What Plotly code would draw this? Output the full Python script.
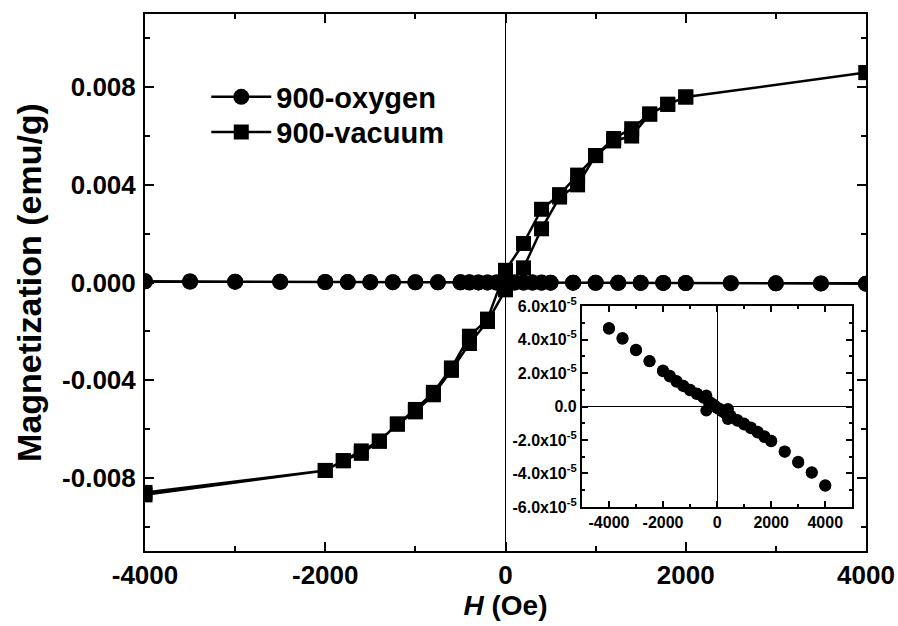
import plotly.graph_objects as go

# ---------------- data ----------------
# 900-oxygen (emu/g): descending branch (+4000 -> -4000) then ascending branch
H_oxy_desc = [4000, 3500, 3000, 2500, 2000, 1750, 1500, 1250, 1000, 750, 500, 400, 300, 200, 100, 0,
              -100, -200, -300, -400, -500, -750, -1000, -1250, -1500, -1750, -2000, -2500, -3000, -3500, -4000]
M_oxy_desc = [-4.73e-5, -3.95e-5, -3.34e-5, -2.70e-5, -2.07e-5, -1.82e-5, -1.55e-5, -1.30e-5, -1.08e-5, -0.85e-5,
              -0.62e-5, -0.74e-5, -0.40e-5, -0.30e-5, -0.18e-5, -0.05e-5,
              0.08e-5, 0.18e-5, 0.30e-5, 0.66e-5, 0.55e-5, 0.75e-5, 0.98e-5, 1.22e-5, 1.48e-5, 1.80e-5,
              2.11e-5, 2.70e-5, 3.36e-5, 4.05e-5, 4.65e-5]
H_oxy_asc = [-4000, -3500, -3000, -2500, -2000, -1750, -1500, -1250, -1000, -750, -500, -400, -300, -200, -100, 0,
             100, 200, 300, 400, 500, 750, 1000, 1250, 1500, 1750, 2000, 2500, 3000, 3500, 4000]
M_oxy_asc = [4.70e-5, 4.10e-5, 3.40e-5, 2.72e-5, 2.15e-5, 1.84e-5, 1.52e-5, 1.25e-5, 1.00e-5, 0.78e-5,
             0.52e-5, -0.24e-5, 0.25e-5, 0.15e-5, 0.05e-5, -0.08e-5,
             -0.14e-5, -0.26e-5, -0.35e-5, -0.14e-5, -0.55e-5, -0.80e-5, -1.02e-5, -1.25e-5, -1.50e-5, -1.78e-5,
             -2.05e-5, -2.68e-5, -3.30e-5, -3.92e-5, -4.70e-5]

# 900-vacuum (emu/g)
H_vac_desc = [4000, 2000, 1800, 1600, 1400, 1200, 1000, 800, 600, 400, 200, 0,
              -200, -400, -600, -800, -1000, -1200, -1400, -1600, -1800, -2000, -4000]
M_vac_desc = [0.0086, 0.0076, 0.0073, 0.0069, 0.0063, 0.0059, 0.0052, 0.0044, 0.0036, 0.0030, 0.0016, 0.0005,
              -0.0015, -0.0022, -0.0035, -0.0045, -0.0052, -0.0058, -0.0065, -0.0069, -0.0073, -0.0077, -0.0086]
H_vac_asc = [-4000, -2000, -1800, -1600, -1400, -1200, -1000, -800, -600, -400, -200, 0,
             200, 400, 600, 800, 1000, 1200, 1400, 1600, 1800, 2000, 4000]
M_vac_asc = [-0.0087, -0.0077, -0.0073, -0.0070, -0.0065, -0.0058, -0.0053, -0.0046, -0.0036, -0.0025, -0.0016, -0.0003,
             0.0006, 0.0022, 0.0035, 0.0040, 0.0052, 0.0058, 0.0060, 0.0069, 0.0073, 0.0076, 0.0086]

# tick labels
x_tickvals = [-4000, -2000, 0, 2000, 4000]
x_ticktext = ["-4000", "-2000", "0", "2000", "4000"]
y_tickvals = [-0.008, -0.004, 0.0, 0.004, 0.008]
y_ticktext = ["-0.008", "-0.004", "0.000", "0.004", "0.008"]
inset_y_tickvals = [-6e-5, -4e-5, -2e-5, 0.0, 2e-5, 4e-5, 6e-5]
inset_y_ticktext = ["-6.0x10<sup>-5</sup>", "-4.0x10<sup>-5</sup>", "-2.0x10<sup>-5</sup>", "0.0",
                    "2.0x10<sup>-5</sup>", "4.0x10<sup>-5</sup>", "6.0x10<sup>-5</sup>"]

FONT = "Liberation Sans, Arial, sans-serif"

H_oxy = H_oxy_desc + H_oxy_asc
M_oxy = M_oxy_desc + M_oxy_asc
H_vac = H_vac_desc + H_vac_asc
M_vac = M_vac_desc + M_vac_asc

fig = go.Figure()
fig.add_trace(go.Scatter(x=H_oxy, y=M_oxy, mode="lines+markers", name="900-oxygen",
                         line=dict(color="black", width=2.5),
                         marker=dict(symbol="circle", size=16, color="black"),
                         xaxis="x", yaxis="y", legend="legend"))
fig.add_trace(go.Scatter(x=H_vac, y=M_vac, mode="lines+markers", name="900-vacuum",
                         line=dict(color="black", width=2.5),
                         marker=dict(symbol="square", size=15, color="black"),
                         xaxis="x", yaxis="y", legend="legend2"))
fig.add_trace(go.Scatter(x=H_oxy, y=M_oxy, mode="markers", showlegend=False,
                         marker=dict(symbol="circle", size=12, color="black"),
                         xaxis="x2", yaxis="y2"))

axis_common = dict(showline=True, linecolor="black", linewidth=2, mirror="allticks",
                   ticks="inside", tickcolor="black", tickwidth=2, showgrid=False,
                   zeroline=True, zerolinecolor="black", zerolinewidth=1, automargin=False)

legend_common = dict(xanchor="left", yanchor="middle", bgcolor="rgba(0,0,0,0)", borderwidth=0,
                     itemwidth=60, font=dict(family=FONT, size=29, color="black", weight="bold"))

fig.update_layout(
    width=898, height=626,
    margin=dict(l=145, r=32, t=14, b=75),
    paper_bgcolor="white", plot_bgcolor="white",
    font=dict(family=FONT, color="black"),
    showlegend=True,
    legend=dict(legend_common, x=0.085, y=0.8454),
    legend2=dict(legend_common, x=0.085, y=0.780),
    xaxis=dict(axis_common, range=[-4000, 4000], domain=[0, 1], anchor="y",
               tickmode="array", tickvals=x_tickvals, ticktext=x_ticktext, ticklen=9,
               ticklabelstandoff=0,
               tickfont=dict(family=FONT, size=26, weight="bold"),
               minor=dict(ticks="inside", ticklen=5, tickwidth=2, tickcolor="black",
                          tickmode="array", tickvals=[-3000, -1000, 1000, 3000]),
               title=dict(text="<i>H</i> (Oe)", font=dict(family=FONT, size=28, weight="bold"), standoff=0)),
    yaxis=dict(axis_common, range=[-0.011, 0.011], domain=[0, 1], anchor="x",
               tickmode="array", tickvals=y_tickvals, ticktext=y_ticktext, ticklen=9,
               ticklabelstandoff=2,
               tickfont=dict(family=FONT, size=26, weight="bold"),
               minor=dict(ticks="inside", ticklen=5, tickwidth=2, tickcolor="black",
                          tickmode="array", tickvals=[-0.010, -0.006, -0.002, 0.002, 0.006, 0.010]),
               title=dict(text="Magnetization (emu/g)", font=dict(family=FONT, size=34, weight="bold"), standoff=10)),
    xaxis2=dict(axis_common, range=[-5000, 5000], domain=[0.606, 0.981], anchor="y2",
                tickmode="array", tickvals=x_tickvals, ticktext=x_ticktext, ticklen=6,
                tickfont=dict(family=FONT, size=16, weight="bold"),
                minor=dict(ticks="inside", ticklen=3, tickwidth=2, tickcolor="black",
                           tickmode="array", tickvals=[-3000, -1000, 1000, 3000])),
    yaxis2=dict(axis_common, range=[-6e-5, 6e-5], domain=[0.082, 0.456], anchor="x2",
                tickmode="array", tickvals=inset_y_tickvals, ticktext=inset_y_ticktext, ticklen=6,
                tickfont=dict(family=FONT, size=16, weight="bold"),
                minor=dict(ticks="inside", ticklen=3, tickwidth=2, tickcolor="black",
                           tickmode="array", tickvals=[-5e-5, -3e-5, -1e-5, 1e-5, 3e-5, 5e-5])),
)

fig.write_html("out.html")
